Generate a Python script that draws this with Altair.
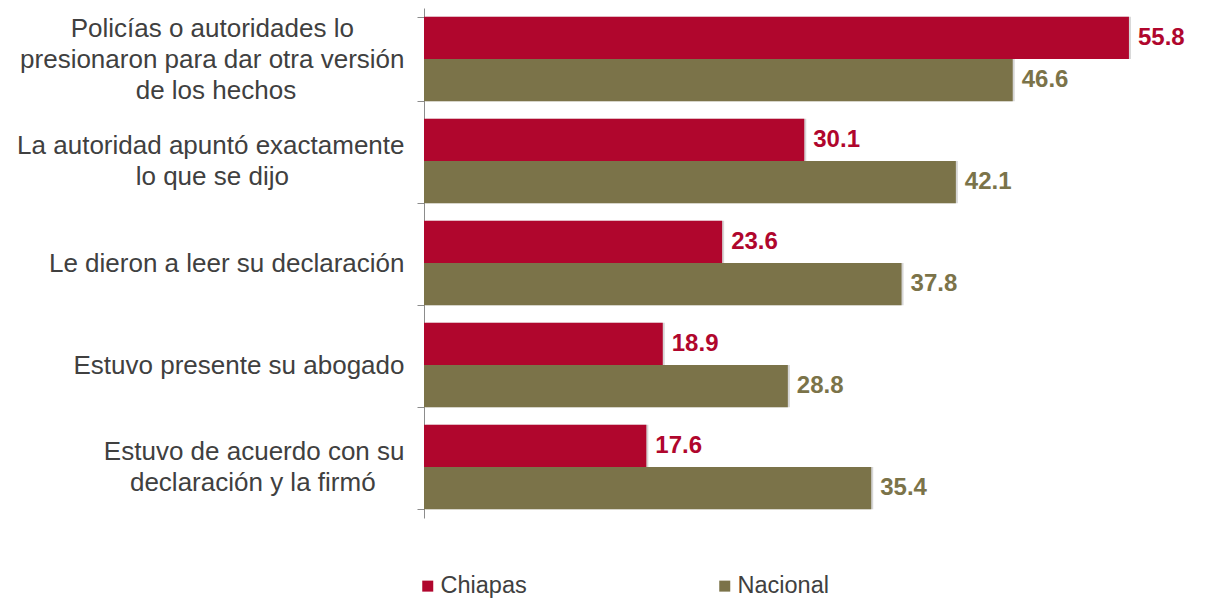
import altair as alt
import pandas as pd

NB = "\u00a0"
ZW = "\u200b"
label_lines = [
    ["Policías o autoridades lo", "presionaron para dar otra versión", "de los hechos"],
    ["La autoridad apuntó exactamente", "lo que se dijo"],
    ["Le dieron a leer su declaración"],
    ["Estuvo presente su abogado"],
    ["Estuvo de acuerdo con su", "declaración y la firmó"],
]
# trailing non-breaking spaces centre the shorter lines inside a right-aligned block
line_pad = [[7, 0, 15], [0, 16], [0], [0], [0, 4]]
categories = [
    "\n".join(l + (NB * p + ZW if p else "") for l, p in zip(lines, pads))
    for lines, pads in zip(label_lines, line_pad)
]
series = ["Chiapas", "Nacional"]
chiapas = [55.8, 30.1, 23.6, 18.9, 17.6]
nacional = [46.6, 42.1, 37.8, 28.8, 35.4]
colors = ["#B0062D", "#7B7349"]

rows = []
for c, a, b in zip(categories, chiapas, nacional):
    rows.append({"cat": c, "serie": "Chiapas", "valor": a})
    rows.append({"cat": c, "serie": "Nacional", "valor": b})
df = pd.DataFrame(rows)

FONT = "Liberation Sans"
LH = 31
nlines = "length(split(datum.value, '\\n'))"

y = alt.Y(
    "cat:N",
    sort=categories,
    scale=alt.Scale(paddingInner=0.17, paddingOuter=0.085),
    axis=alt.Axis(
        title=None,
        labelExpr="split(datum.label, '\\n')",
        labelFont=FONT,
        labelFontSize=26,
        labelColor="#404040",
        labelLineHeight=LH,
        labelAlign="right",
        labelBaseline="middle",
        labelPadding=13,
        labelLimit=0,
        labelOffset={
            "condition": [
                {"test": f"{nlines} == 3", "value": -LH},
                {"test": f"{nlines} == 2", "value": -LH / 2},
            ],
            "value": 0,
        },
        tickSize=7,
        tickColor="#8c8c8c",
        domainColor="#8c8c8c",
        tickBand="extent",
        grid=False,
    ),
)
yoff = alt.YOffset("serie:N", sort=series, scale=alt.Scale(paddingInner=0, paddingOuter=0))
x = alt.X("valor:Q", scale=alt.Scale(domain=[0, 60], nice=False), axis=None)
color = alt.Color(
    "serie:N",
    sort=series,
    scale=alt.Scale(domain=series, range=colors),
    legend=alt.Legend(
        title=None,
        orient="none",
        legendX=-8,
        legendY=566,
        direction="horizontal",
        columns=2,
        columnPadding=186,
        symbolType="square",
        symbolSize=121,
        symbolStrokeWidth=0,
        symbolOpacity=1,
        labelFont=FONT,
        labelFontSize=23.5,
        labelColor="#404040",
        labelOffset=1,
        padding=0,
    ),
)

base = alt.Chart(df)

shadow = base.mark_bar(color="#000000", opacity=0.16, xOffset=2, yOffset=3).encode(
    x=x, y=y, yOffset=yoff
)
bars = base.mark_bar().encode(x=x, y=y, yOffset=yoff, color=color)
labels = base.mark_text(
    align="left", baseline="middle", dx=9, font=FONT, fontSize=24, fontWeight="bold"
).encode(
    x=x,
    y=y,
    yOffset=yoff,
    text=alt.Text("valor:Q", format=".1f"),
    color=color,
)

chart = (
    alt.layer(shadow, bars, labels)
    .properties(
        width=758,
        height=510,
        autosize=alt.AutoSizeParams(type="none"),
        padding={"left": 416, "top": 0, "right": 25, "bottom": 80},
    )
    .configure_view(stroke=None)
)

chart.save("out.html", embed_options={"renderer": "svg", "actions": False})
